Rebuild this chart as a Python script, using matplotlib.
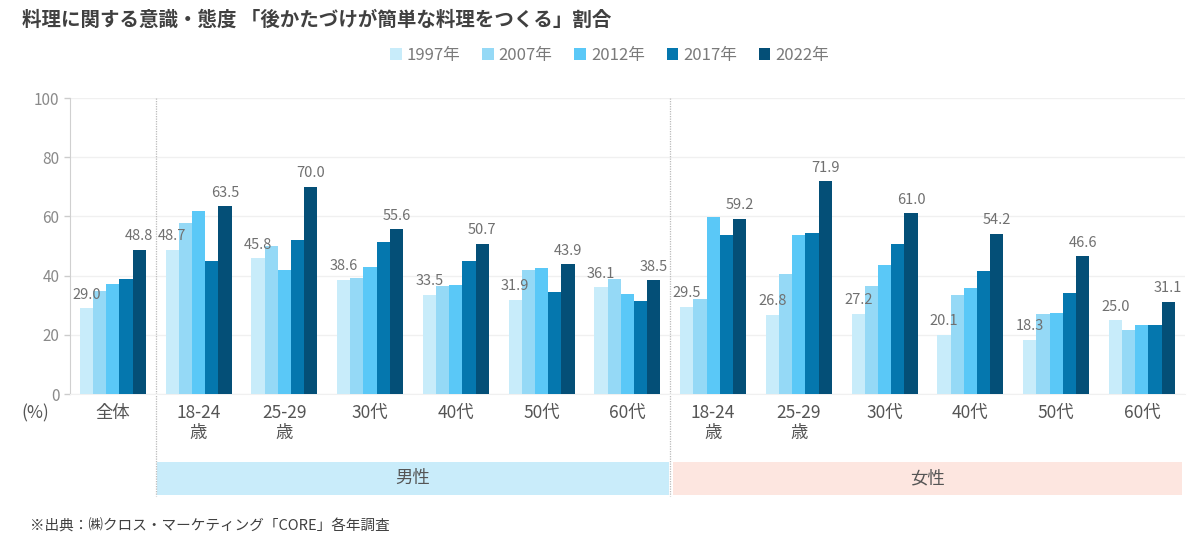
import matplotlib
matplotlib.use("Agg")
import matplotlib.pyplot as plt
import matplotlib.transforms as mtransforms
from matplotlib.patches import Rectangle
import numpy as np

plt.rcParams['font.family'] = ['Noto Sans CJK JP', 'DejaVu Sans']

title = "料理に関する意識・態度 「後かたづけが簡単な料理をつくる」割合"
source = "※出典：㈱クロス・マーケティング「CORE」各年調査"
years = ["1997年", "2007年", "2012年", "2017年", "2022年"]
categories = ["全体", "18-24\n歳", "25-29\n歳", "30代", "40代", "50代", "60代",
              "18-24\n歳", "25-29\n歳", "30代", "40代", "50代", "60代"]
groups = ["男性", "女性"]

v1997 = [29.0, 48.7, 45.8, 38.6, 33.5, 31.9, 36.1, 29.5, 26.8, 27.2, 20.1, 18.3, 25.0]
v2007 = [34.9, 57.9, 50.1, 39.2, 36.4, 41.9, 38.8, 32.1, 40.4, 36.5, 33.5, 26.9, 21.5]
v2012 = [37.1, 61.8, 41.9, 42.8, 36.9, 42.5, 33.8, 59.8, 53.8, 43.5, 35.7, 27.3, 23.4]
v2017 = [39.0, 44.9, 52.1, 51.3, 45.0, 34.4, 31.3, 53.6, 54.3, 50.7, 41.5, 34.2, 23.2]
v2022 = [48.8, 63.5, 70.0, 55.6, 50.7, 43.9, 38.5, 59.2, 71.9, 61.0, 54.2, 46.6, 31.1]
series = [v1997, v2007, v2012, v2017, v2022]
colors = ["#c8ecfa", "#95d9f6", "#5ac8f7", "#0577ae", "#044f77"]

fig = plt.figure(figsize=(12, 5.47), dpi=100)
ax = fig.add_axes([0.0583, 0.2797, 0.929, 0.541])

x = np.arange(len(categories))
w = 0.154
for i, (vals, c) in enumerate(zip(series, colors)):
    ax.bar(x + (i - 2) * w, vals, width=w, color=c, label=years[i], zorder=3)

# data labels on 1997 and 2022
for j in range(len(categories)):
    ax.text(x[j] - 2 * w, v1997[j] + 2.2, f"{v1997[j]:.1f}", ha='center', va='bottom',
            fontsize=10.5, color='#707070', zorder=4)
    ax.text(x[j] + 2 * w, v2022[j] + 2.2, f"{v2022[j]:.1f}", ha='center', va='bottom',
            fontsize=10.5, color='#707070', zorder=4)

ax.set_xlim(-0.5, len(categories) - 0.5)
ax.set_ylim(0, 100)
ax.set_yticks(range(0, 101, 20))
ax.tick_params(axis='y', labelsize=11, labelcolor='#8a8a8a', color='#cccccc', length=4, width=1)
ax.yaxis.grid(True, color='#f0f0f0', linewidth=1, zorder=0)
ax.set_xticks([])
for s in ['top', 'right']:
    ax.spines[s].set_visible(False)
ax.spines['left'].set_color('#d0d0d0')
ax.spines['bottom'].set_color('#f0f0f0')

trans = mtransforms.blended_transform_factory(ax.transData, ax.transAxes)

# category labels
for j, lab in enumerate(categories):
    ax.text(x[j], -0.035, lab, transform=trans, ha='center', va='top',
            fontsize=12.5, color='#555555', linespacing=1.15)
ax.text(-0.031, -0.035, "(%)", transform=ax.transAxes, ha='center', va='top',
        fontsize=12.5, color='#555555')

# group bands
band_y0, band_y1 = -0.341, -0.229
ax.add_patch(Rectangle((0.51, band_y0), 5.97, band_y1 - band_y0, transform=trans,
                       facecolor='#c9ecfa', edgecolor='none', clip_on=False, zorder=1))
ax.add_patch(Rectangle((6.53, band_y0), 5.94, band_y1 - band_y0, transform=trans,
                       facecolor='#fde6e0', edgecolor='none', clip_on=False, zorder=1))
ax.text(3.5, (band_y0 + band_y1) / 2, groups[0], transform=trans, ha='center', va='center',
        fontsize=12.5, color='#555555')
ax.text(9.5, (band_y0 + band_y1) / 2, groups[1], transform=trans, ha='center', va='center',
        fontsize=12.5, color='#555555')

# separators
for sx in [0.5, 6.5]:
    ax.plot([sx, sx], [1.0, -0.345], transform=trans, color='#bbbbbb', linestyle=(0, (1, 1)),
            linewidth=0.9, clip_on=False, zorder=2)

fig.text(0.018, 0.963, title, fontsize=14, fontweight='bold', color='#404040', ha='left', va='center')
fig.text(0.025, 0.037, source, fontsize=10.5, color='#404040', ha='left', va='center')

handles, labels = ax.get_legend_handles_labels()
fig.legend(handles, labels, loc='center', bbox_to_anchor=(0.508, 0.899), ncol=5, frameon=False,
           fontsize=12, labelcolor='#7a7a7a', handlelength=0.7, handleheight=0.7,
           handletextpad=0.3, columnspacing=1.3)

fig.savefig("out.png", dpi=100)
